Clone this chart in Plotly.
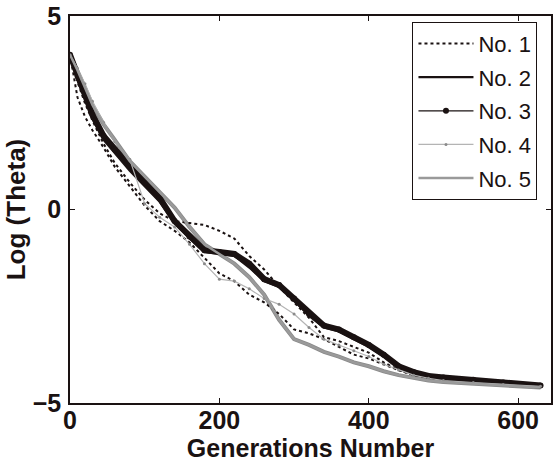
import plotly.graph_objects as go

generations = [0, 10, 20, 30, 45, 60, 80, 100, 120, 140, 160, 180, 200, 220, 240, 260, 280,
               300, 320, 340, 360, 380, 400, 420, 440, 460, 480, 500, 540, 580, 630]

no1 = [4.0, 3.3, 2.75, 2.3, 1.7, 1.2, 0.7, 0.25, -0.1, -0.3, -0.35, -0.4, -0.55, -0.75, -1.2, -1.55,
       -2.0, -2.4, -2.8, -3.3, -3.4, -3.55, -3.7, -3.95, -4.15, -4.28, -4.35, -4.4, -4.45, -4.5, -4.55]
no1_b = [4.0, 2.9, 2.4, 2.05, 1.6, 1.1, 0.6, 0.1, -0.3, -0.55, -0.85, -1.25, -1.65, -1.85, -2.2, -2.4,
         -2.7, -3.1, -3.2, -3.35, -3.55, -3.75, -3.85, -4.0, -4.15, -4.27, -4.35, -4.4, -4.45, -4.5, -4.55]
no2 = [4.0, 3.35, 2.85, 2.35, 1.8, 1.45, 1.0, 0.6, 0.2, -0.35, -0.75, -1.1, -1.15, -1.2, -1.5, -1.85,
       -2.0, -2.35, -2.75, -3.05, -3.15, -3.35, -3.55, -3.8, -4.08, -4.22, -4.3, -4.35, -4.42, -4.48, -4.55]
no3 = [4.0, 3.45, 2.95, 2.45, 1.9, 1.55, 1.12, 0.7, 0.3, -0.3, -0.7, -1.05, -1.1, -1.15, -1.4, -1.8,
       -1.95, -2.3, -2.7, -3.0, -3.1, -3.3, -3.5, -3.75, -4.05, -4.2, -4.3, -4.34, -4.4, -4.47, -4.55]
no4 = [4.0, 3.65, 3.25, 2.8, 2.25, 1.75, 1.3, 0.15, -0.2, -0.45, -0.9, -1.4, -1.8, -1.85, -2.05, -2.3,
       -2.45, -2.7, -3.05, -3.35, -3.5, -3.65, -3.8, -4.0, -4.15, -4.28, -4.36, -4.42, -4.47, -4.52, -4.57]
no5 = [4.0, 3.6, 3.15, 2.7, 2.2, 1.8, 1.25, 0.85, 0.45, 0.05, -0.45, -0.9, -1.15, -1.4, -1.75, -2.2,
       -2.85, -3.35, -3.5, -3.68, -3.8, -3.95, -4.05, -4.18, -4.28, -4.35, -4.42, -4.46, -4.5, -4.54, -4.6]

x_ticks = [0, 200, 400, 600]
y_ticks = [-5, 0, 5]

INK = "#1a1212"
FONT = "Liberation Sans, Arial"

fig = go.Figure()

# thick underlays (not in legend)
fig.add_trace(go.Scatter(x=generations, y=no5, mode="lines", line=dict(color="#8a8a8a", width=4),
                         showlegend=False, hoverinfo="skip"))
fig.add_trace(go.Scatter(x=generations, y=no3, mode="lines", line=dict(color=INK, width=6),
                         showlegend=False, hoverinfo="skip"))
fig.add_trace(go.Scatter(x=generations, y=no1_b, mode="lines", line=dict(color=INK, width=2, dash="dot"),
                         showlegend=False, hoverinfo="skip"))

fig.add_trace(go.Scatter(x=generations, y=no1, name="No. 1", mode="lines", legendgroup="1",
                         line=dict(color=INK, width=2, dash="dot")))
fig.add_trace(go.Scatter(x=generations, y=no2, name="No. 2", mode="lines", legendgroup="2",
                         line=dict(color=INK, width=2.2)))
fig.add_trace(go.Scatter(x=generations, y=no3, name="No. 3", mode="lines+markers", legendgroup="3",
                         line=dict(color=INK, width=1.2), marker=dict(color=INK, size=6)))
fig.add_trace(go.Scatter(x=generations, y=no4, name="No. 4", mode="lines+markers", legendgroup="4",
                         line=dict(color="#b4b4b4", width=1.2), marker=dict(color="#8a8a8a", size=3)))
fig.add_trace(go.Scatter(x=generations, y=no5, name="No. 5", mode="lines", legendgroup="5",
                         line=dict(color="#9a9a9a", width=2.5)))

axis_common = dict(
    showline=True, linecolor=INK, linewidth=1.5, mirror="ticks",
    ticks="inside", ticklen=5, tickcolor=INK, showgrid=False, zeroline=False,
    ticklabeloverflow="allow",
    tickfont=dict(family=FONT, size=25, color=INK, weight="bold"),
)

fig.update_xaxes(range=[0, 644], tickvals=x_ticks, ticklabelstandoff=-6,
                 title=dict(text="Generations Number", standoff=0,
                            font=dict(family=FONT, size=25, color=INK, weight="bold")),
                 **axis_common)
fig.update_yaxes(range=[-5, 5], tickvals=y_ticks, ticklabelstandoff=2,
                 title=dict(text="Log (Theta)", standoff=0,
                            font=dict(family=FONT, size=26, color=INK, weight="bold")),
                 **axis_common)

fig.update_layout(
    width=555, height=463,
    margin=dict(l=70, r=2, t=14, b=60),
    plot_bgcolor="white", paper_bgcolor="white",
    legend=dict(x=0.712, y=0.985, xanchor="left", yanchor="top",
                bgcolor="white", bordercolor=INK, borderwidth=1,
                font=dict(family=FONT, size=22, color=INK),
                tracegroupgap=2, itemwidth=55),
)

fig.write_html("out.html")
